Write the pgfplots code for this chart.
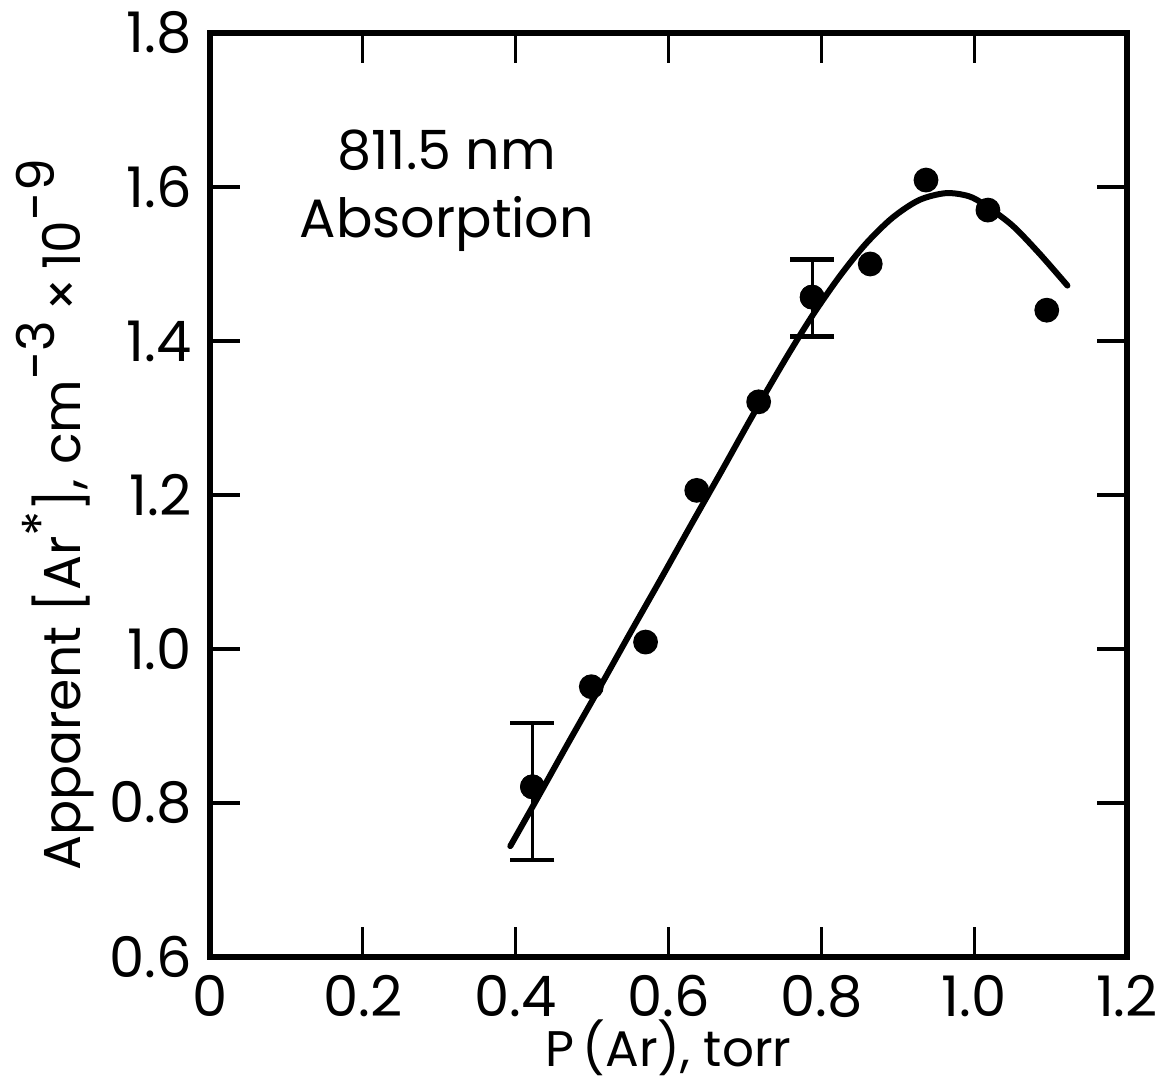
\documentclass[border=0pt]{standalone}
\usepackage{pgfplots}
\pgfplotsset{compat=1.18}
\usepackage{fontspec}
\setmainfont{Poppins}
\begin{document}
\begin{tikzpicture}
\useasboundingbox (-52.5pt,-33.25pt) rectangle (240pt,239.25pt);
\begin{axis}[
  at={(0,0)}, anchor=south west,
  scale only axis, width=229.25pt, height=231pt,
  xmin=0, xmax=1.2, ymin=0.6, ymax=1.8,
  xtick={0,0.2,0.4,0.6,0.8,1.0,1.2},
  ytick={0.6,0.8,1.0,1.2,1.4,1.6,1.8},
  xticklabels={0,0.2,0.4,0.6,0.8,1.0,1.2},
  yticklabels={0.6,0.8,1.0,1.2,1.4,1.6,1.8},
  tick align=inside, major tick length=7.5pt,
  tick style={line width=0.8pt, black},
  axis line style={line width=1.3pt},
  ticklabel style={font=\fontsize{14}{16}\selectfont},
  xticklabel style={yshift=-1pt},
  yticklabel style={xshift=-1pt},
  xlabel={P\,(Ar), torr},
  ylabel={Apparent [Ar\raisebox{0.7ex}{*}], cm\raisebox{0.9ex}{-3}\,×\,10\raisebox{0.9ex}{-9}},
  label style={font=\fontsize{13}{15}\selectfont},
  xlabel style={font=\fontsize{12.5}{14}\selectfont, yshift=4pt, inner sep=1pt},
  ylabel style={yshift=-3pt, xshift=-5pt},
]
\addplot[line width=1.5pt, line cap=round, smooth] coordinates {
 (0.393,0.744) (0.43,0.809) (0.47,0.880) (0.51,0.950) (0.55,1.021)
 (0.59,1.091) (0.63,1.162) (0.67,1.232) (0.71,1.303) (0.754,1.378)
 (0.789,1.434) (0.824,1.484) (0.858,1.526) (0.893,1.560) (0.928,1.583)
 (0.963,1.592) (0.993,1.588) (1.015,1.576) (1.050,1.550) (1.085,1.514)
 (1.122,1.472)
};
\addplot[only marks, mark=*, mark size=2.9pt, black] coordinates {
 (0.422,0.821) (0.499,0.951) (0.570,1.009) (0.637,1.206) (0.718,1.321)
 (0.788,1.457) (0.864,1.500) (0.937,1.609) (1.018,1.570) (1.095,1.440)
};
\addplot[only marks, mark=*, mark size=2.9pt, black,
  error bars/.cd, y dir=both, y explicit,
  error mark=|,
  error bar style={line width=0.8pt},
  error mark options={line width=1.1pt, mark size=5.5pt}]
 coordinates {
 (0.422,0.821) += (0,0.083) -= (0,0.095)
 (0.788,1.457) += (0,0.049) -= (0,0.051)
};
\node[align=center, font=\fontsize{13.5}{17}\selectfont] at (axis cs:0.31,1.595) {811.5 nm\\Absorption};
\end{axis}
\end{tikzpicture}
\end{document}
